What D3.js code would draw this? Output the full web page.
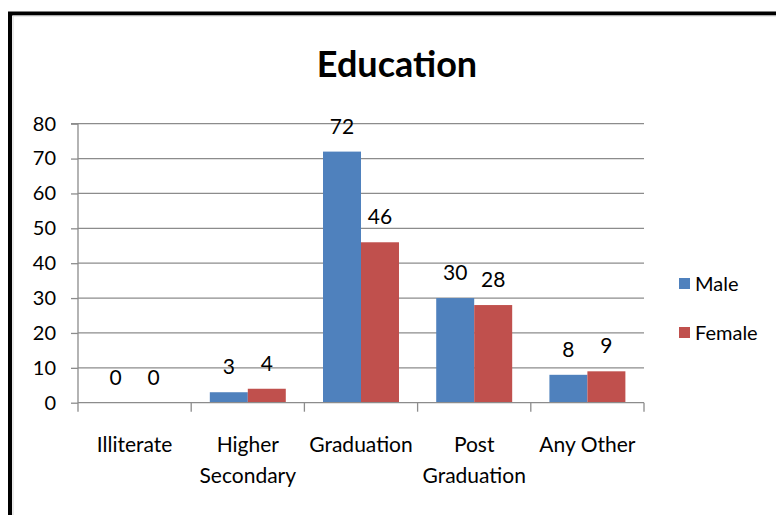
<!DOCTYPE html>
<html>
<head>
<meta charset="utf-8">
<script src="https://cdn.jsdelivr.net/npm/d3@7"></script>
<style>
  html, body { margin: 0; padding: 0; background: #fff; }
  svg { display: block; }
  text { font-family: Lato, "Open Sans", sans-serif; fill: #000; }
</style>
</head>
<body>
<svg id="chart" width="776" height="515"></svg>
<script>
// Education level counts by gender
const categories = [["Illiterate"], ["Higher", "Secondary"], ["Graduation"], ["Post", "Graduation"], ["Any Other"]];
const seriesNames = ["Male", "Female"];
const maleValues = [0, 3, 72, 30, 8];
const femaleValues = [0, 4, 46, 28, 9];
const yTicks = [0, 10, 20, 30, 40, 50, 60, 70, 80];
const seriesColors = ["#4F81BD", "#C0504D"];

const svg = d3.select("#chart");
const W = 776, H = 515;

// page background and frame
svg.append("rect").attr("width", W).attr("height", H).attr("fill", "#fff");
svg.append("path")
  .attr("d", "M10,520 L10,13.5 L790,13.5")
  .attr("fill", "none").attr("stroke", "#000").attr("stroke-width", 4);
svg.append("path")
  .attr("d", "M13,520 L13,16 L790,16")
  .attr("fill", "none").attr("stroke", "#d6d6d6").attr("stroke-width", 1);

const plot = { left: 78, right: 644, top: 123.7, bottom: 402.7 };
const catKeys = categories.map(c => c.join(" "));

const x = d3.scaleBand().domain(catKeys).range([plot.left, plot.right]).padding(0);
const xs = d3.scaleBand().domain(seriesNames).range([0, x.bandwidth()])
  .paddingInner(0).paddingOuter(0.49);
const y = d3.scaleLinear().domain([0, 80]).range([plot.bottom, plot.top]);

// title
svg.append("text")
  .attr("x", 397).attr("y", 77)
  .attr("text-anchor", "middle")
  .attr("font-size", 36).attr("font-weight", 700)
  .text("Education");

// gridlines
svg.append("g").selectAll("line").data(yTicks.filter(t => t > 0)).join("line")
  .attr("x1", plot.left).attr("x2", plot.right)
  .attr("y1", d => y(d)).attr("y2", d => y(d))
  .attr("stroke", "#8c8c8c").attr("stroke-width", 1.3);

// bars
const seriesData = [maleValues, femaleValues];
seriesData.forEach((vals, si) => {
  const g = svg.append("g");
  g.selectAll("rect").data(vals).join("rect")
    .attr("x", (d, i) => x(catKeys[i]) + xs(seriesNames[si]))
    .attr("y", d => y(d))
    .attr("width", xs.bandwidth())
    .attr("height", d => y(0) - y(d))
    .attr("fill", seriesColors[si]);
  g.selectAll("text").data(vals).join("text")
    .attr("x", (d, i) => x(catKeys[i]) + xs(seriesNames[si]) + xs.bandwidth() / 2)
    .attr("y", d => y(d) - 18)
    .attr("text-anchor", "middle")
    .attr("font-size", 21)
    .text(d => d);
});

// y axis
const yAxis = svg.append("g")
  .attr("transform", `translate(${plot.left},0)`)
  .call(d3.axisLeft(y).tickValues(yTicks).tickSize(7).tickPadding(15));
yAxis.select(".domain").attr("stroke", "#8c8c8c").attr("stroke-width", 1.3)
  .attr("d", `M-7,${plot.top}H0V${plot.bottom + 9}`);
yAxis.selectAll(".tick line").attr("stroke", "#8c8c8c").attr("stroke-width", 1.3);
yAxis.selectAll(".tick text").attr("font-size", 20).attr("font-family", "Lato, sans-serif").attr("fill", "#000");

// x axis
const xAxis = svg.append("g")
  .attr("transform", `translate(0,${plot.bottom})`);
xAxis.append("line")
  .attr("x1", plot.left).attr("x2", plot.right)
  .attr("stroke", "#8c8c8c").attr("stroke-width", 1.3);
const boundaries = catKeys.map(k => x(k) + x.bandwidth());
xAxis.selectAll("line.tk").data(boundaries).join("line")
  .attr("class", "tk")
  .attr("x1", d => d).attr("x2", d => d)
  .attr("y1", 0).attr("y2", 9)
  .attr("stroke", "#8c8c8c").attr("stroke-width", 1.3);

const labels = svg.append("g").selectAll("text").data(categories).join("text")
  .attr("text-anchor", "middle")
  .attr("font-size", 21)
  .attr("x", (d, i) => x(catKeys[i]) + x.bandwidth() / 2);
labels.each(function (lines, i) {
  const t = d3.select(this);
  lines.forEach((ln, j) => {
    t.append("tspan")
      .attr("x", x(catKeys[i]) + x.bandwidth() / 2)
      .attr("y", 452 + j * 31)
      .text(ln);
  });
});

// legend
const legend = svg.append("g").selectAll("g").data(seriesNames).join("g")
  .attr("transform", (d, i) => `translate(679,${278 + i * 49})`);
legend.append("rect").attr("width", 11).attr("height", 11)
  .attr("fill", (d, i) => seriesColors[i]);
legend.append("text").attr("x", 16).attr("y", 13)
  .attr("font-size", 20).text(d => d);
</script>
</body>
</html>
